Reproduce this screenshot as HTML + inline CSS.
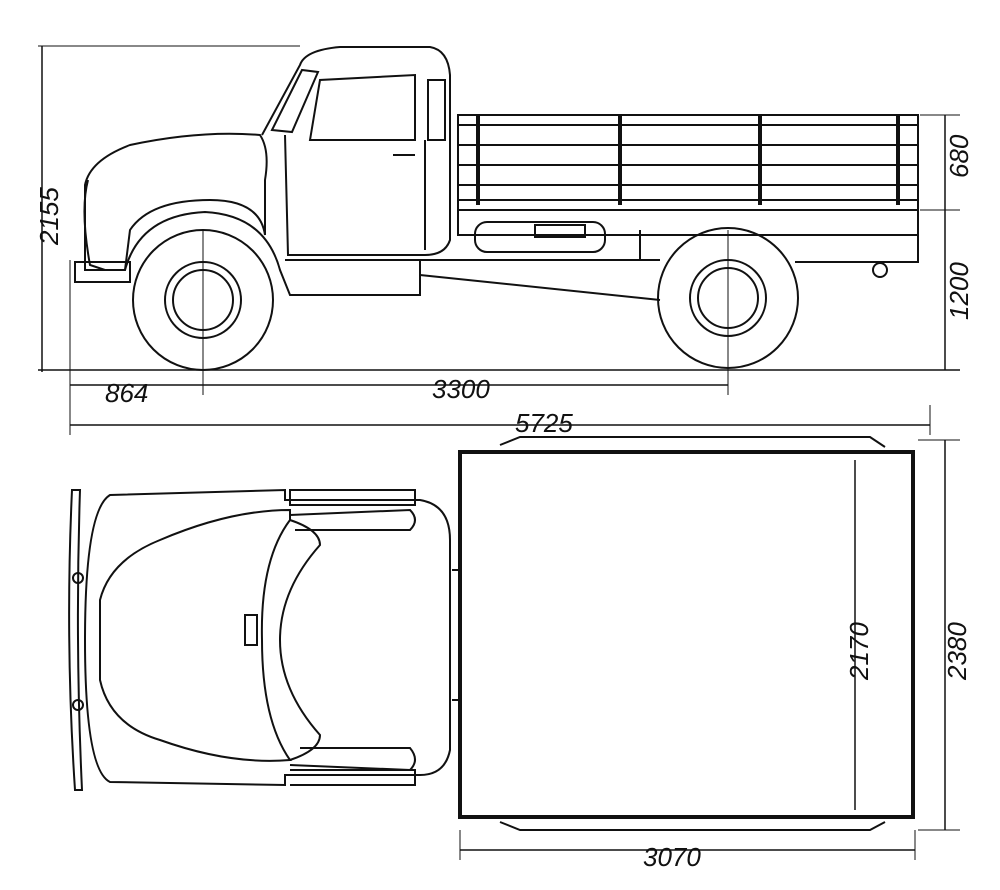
<!DOCTYPE html>
<html><head><meta charset="utf-8"><style>
html,body{margin:0;padding:0;background:#fff;}
svg{display:block;}
text{font-family:"Liberation Sans",sans-serif;font-style:italic;font-size:26px;fill:#111;}
</style></head><body>
<svg width="1000" height="890" viewBox="0 0 1000 890" xmlns="http://www.w3.org/2000/svg">
<g fill="none" stroke="#111" stroke-width="2">
<!-- dimension lines side -->
<line x1="42" y1="46" x2="42" y2="372" stroke-width="1.5"/>
<line x1="38" y1="46" x2="300" y2="46" stroke-width="1"/>
<line x1="38" y1="370" x2="960" y2="370" stroke-width="1.5"/>
<line x1="945" y1="115" x2="945" y2="370" stroke-width="1.5"/>
<line x1="920" y1="115" x2="960" y2="115" stroke-width="1"/>
<line x1="920" y1="210" x2="960" y2="210" stroke-width="1"/>
<line x1="70" y1="385" x2="728" y2="385" stroke-width="1.5"/>
<line x1="70" y1="260" x2="70" y2="435" stroke-width="1"/>
<line x1="203" y1="230" x2="203" y2="395" stroke-width="1"/>
<line x1="728" y1="230" x2="728" y2="395" stroke-width="1"/>
<line x1="70" y1="425" x2="930" y2="425" stroke-width="1.5"/>
<line x1="930" y1="405" x2="930" y2="435" stroke-width="1"/>
<!-- wheels -->
<circle cx="203" cy="300" r="70"/><circle cx="203" cy="300" r="38"/><circle cx="203" cy="300" r="30"/>
<circle cx="728" cy="298" r="70"/><circle cx="728" cy="298" r="38"/><circle cx="728" cy="298" r="30"/>
<!-- fenders / hood -->
<path d="M85 185 Q90 160 130 145 Q200 130 260 135 Q270 150 265 180 L265 235 Q260 200 210 200 Q150 200 130 230 L125 270 L85 270 Z"/>
<path d="M125 270 Q140 215 205 212 Q265 215 280 270 L290 295 L420 295 L420 260 L285 260"/>
<path d="M88 180 Q80 210 90 265 L105 270"/>
<path d="M75 262 L130 262 L130 282 L75 282 Z"/>
<!-- cab -->
<path d="M262 135 L300 65 Q305 50 340 47 L430 47 Q448 50 450 75 L450 240 Q445 255 425 255 L288 255 L285 135"/>
<path d="M310 140 L320 80 L415 75 L415 140 Z"/>
<path d="M272 130 L302 70 L318 72 L292 132 Z"/>
<path d="M428 80 L445 80 L445 140 L428 140 Z"/>
<path d="M425 140 L425 250"/>
<line x1="393" y1="155" x2="415" y2="155"/>
<!-- bed -->
<rect x="458" y="115" width="460" height="95"/>
<line x1="458" y1="125" x2="918" y2="125"/>
<line x1="458" y1="145" x2="918" y2="145"/>
<line x1="458" y1="165" x2="918" y2="165"/>
<line x1="458" y1="185" x2="918" y2="185"/>
<line x1="458" y1="200" x2="918" y2="200"/>
<rect x="458" y="210" width="460" height="25"/>
<line x1="478" y1="115" x2="478" y2="205" stroke-width="4"/>
<line x1="620" y1="115" x2="620" y2="205" stroke-width="4"/>
<line x1="760" y1="115" x2="760" y2="205" stroke-width="4"/>
<line x1="898" y1="115" x2="898" y2="205" stroke-width="4"/>
<rect x="475" y="222" width="130" height="30" rx="12"/>
<rect x="535" y="225" width="50" height="12"/>
<path d="M420 260 L660 260 M420 275 L660 300 M640 230 L640 260 M795 262 L918 262 L918 235"/>
<circle cx="880" cy="270" r="7"/>
<!-- top view bed -->
<rect x="460" y="452" width="453" height="365" stroke-width="4"/>
<line x1="945" y1="440" x2="945" y2="830" stroke-width="1.5"/>
<line x1="918" y1="440" x2="960" y2="440" stroke-width="1"/>
<line x1="918" y1="830" x2="960" y2="830" stroke-width="1"/>
<line x1="855" y1="460" x2="855" y2="810" stroke-width="1.5"/>
<line x1="460" y1="850" x2="915" y2="850" stroke-width="1.5"/>
<line x1="460" y1="830" x2="460" y2="860" stroke-width="1"/>
<line x1="915" y1="830" x2="915" y2="860" stroke-width="1"/>
<path d="M500 445 L520 437 L870 437 L885 447"/>
<path d="M500 822 L520 830 L870 830 L885 822"/>
<!-- top view cab -->
<path d="M110 495 L285 490 L285 500 L420 500 Q450 505 450 540 L450 750 Q445 775 420 775 L285 775 L285 785 L110 782 Q85 770 85 640 Q85 510 110 495 Z"/>
<path d="M100 600 Q110 560 160 540 Q230 510 290 510 L290 520 Q260 560 262 640 Q262 720 290 760 Q230 765 160 740 Q110 725 100 680 Z"/>
<path d="M290 520 Q320 530 320 545 Q280 590 280 640 Q280 690 320 735 Q320 750 290 760"/>
<path d="M290 515 L410 510 Q420 520 410 530 L295 530"/>
<path d="M290 765 L410 770 Q420 760 410 748 L300 748"/>
<path d="M290 490 L290 505 L415 505 L415 490 Z"/>
<path d="M290 770 L415 770 L415 785 L290 785"/>
<path d="M72 490 Q65 640 75 790 L82 790 Q75 640 80 490 Z"/>
<circle cx="78" cy="578" r="5"/><circle cx="78" cy="705" r="5"/>
<line x1="452" y1="570" x2="460" y2="570"/><line x1="452" y1="700" x2="460" y2="700"/>
<rect x="245" y="615" width="12" height="30"/>
</g>
<text x="0" y="0" transform="translate(58,245) rotate(-90)">2155</text>
<text x="0" y="0" transform="translate(968,178) rotate(-90)">680</text>
<text x="0" y="0" transform="translate(968,320) rotate(-90)">1200</text>
<text x="105" y="402">864</text>
<text x="432" y="398">3300</text>
<text x="515" y="432">5725</text>
<text x="0" y="0" transform="translate(868,680) rotate(-90)">2170</text>
<text x="0" y="0" transform="translate(966,680) rotate(-90)">2380</text>
<text x="643" y="866">3070</text>
</svg>
</body></html>
